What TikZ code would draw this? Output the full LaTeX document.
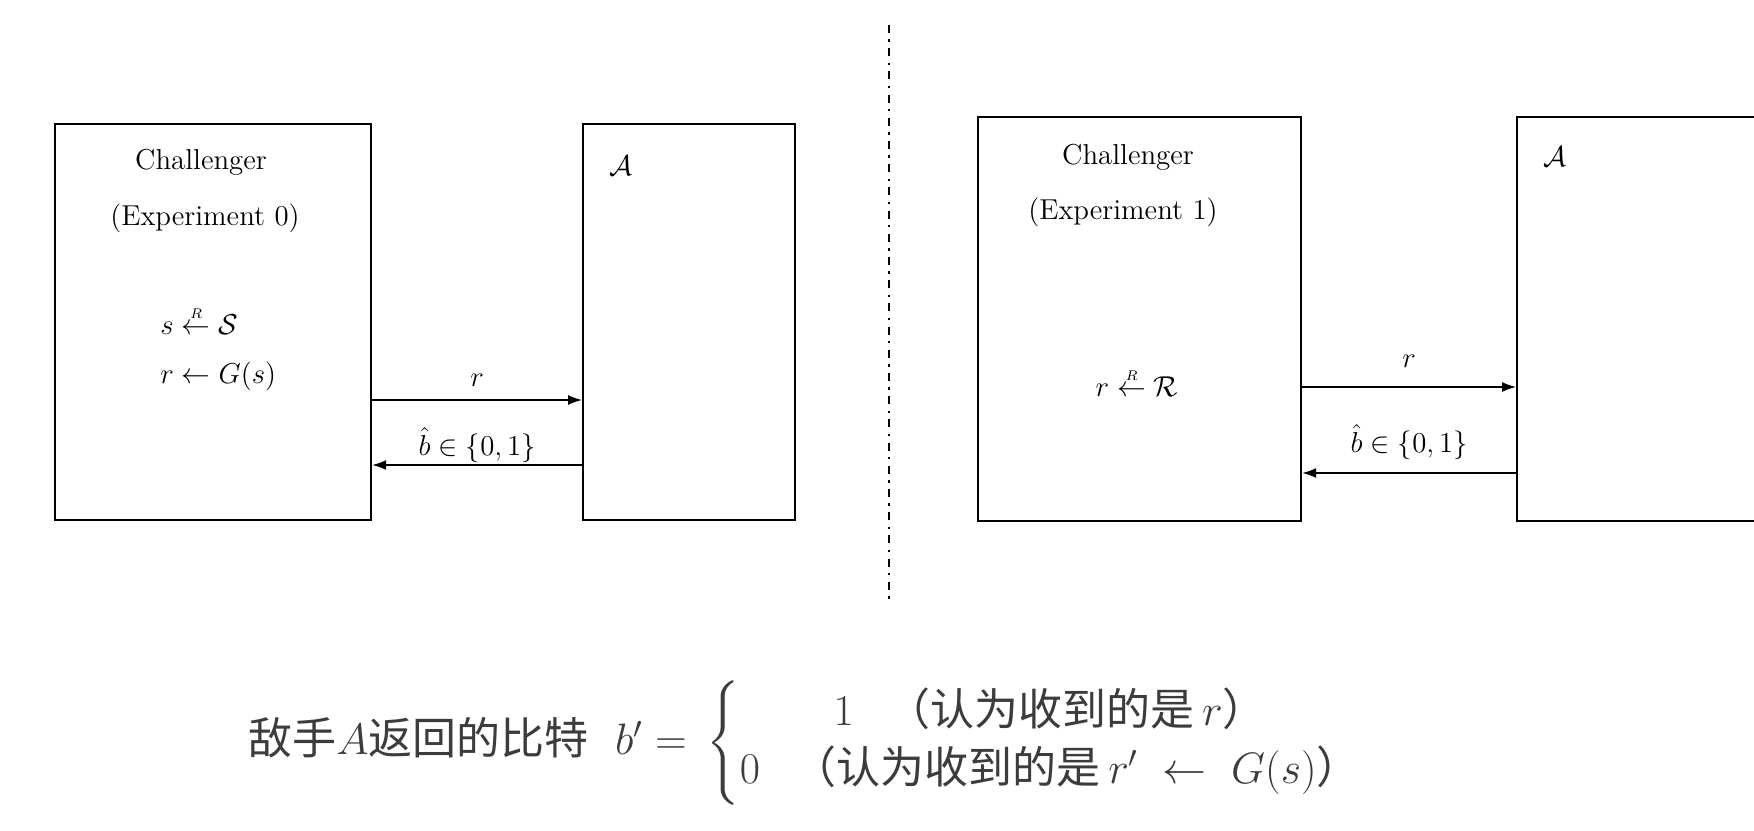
\RequirePackage{fix-cm}
\documentclass[tikz,border=0pt]{standalone}
\usepackage{fontspec}
\usepackage{amsmath}
\usetikzlibrary{arrows.meta}
\newfontfamily\cjk{Noto Sans CJK SC}
\definecolor{textgray}{HTML}{3C3C3C}
\tikzset{
  box/.style={draw, line width=1.1pt, anchor=north west, inner sep=0pt},
  arr/.style={-{Latex[length=7pt,width=5pt]}, line width=0.7pt},
  lbl/.style={font=\fontsize{14.4}{17}\selectfont, inner sep=0pt},
  sepline/.style={line width=0.9pt, dash pattern=on 4pt off 3.2pt on 1.2pt off 3.2pt},
  formula/.style={anchor=west, text=textgray, font=\fontsize{22}{26}\selectfont, inner sep=0pt}
}
\begin{document}
\begin{tikzpicture}[x=0.5pt,y=-0.5pt]
\useasboundingbox (0,0) rectangle (1754,830);
\clip (0,0) rectangle (1754,830);

% left experiment
\node[box, minimum width=158pt, minimum height=198pt] (ch0) at (54,123) {};
\node[box, minimum width=106pt, minimum height=198pt] (adv0) at (582,123) {};
\node[lbl] (t0a) at (201,162) {Challenger};
\node[lbl] (t0b) at (205,218) {(Experiment 0)};
\node[lbl, anchor=west] (t0c) at (160,320) {$s \stackrel{\scriptscriptstyle R}{\leftarrow} \mathcal{S}$};
\node[lbl, anchor=west] (t0d) at (160,376) {$r \leftarrow G(s)$};
\node[lbl] (a0) at (621,166) {$\mathcal{A}$};
\coordinate (y0r) at (0,400);
\coordinate (y0b) at (0,465);
\draw[arr] (ch0.east |- y0r) -- node[lbl, midway, yshift=10pt] (l0r) {$r$} (adv0.west |- y0r);
\draw[arr] (adv0.west |- y0b) -- node[lbl, midway, yshift=10pt] (l0b) {$\hat{b}\in\{0,1\}$} (ch0.east |- y0b);

% separator
\coordinate (sepTop) at (889,25);
\coordinate (sepBot) at (889,601);
\draw[sepline] (sepTop) -- (sepBot);

% right experiment
\node[box, minimum width=161.5pt, minimum height=202pt] (ch1) at (977,116) {};
\node[box, minimum width=130pt, minimum height=202pt] (adv1) at (1516,116) {};
\node[lbl] (t1a) at (1128,157) {Challenger};
\node[lbl] (t1b) at (1123,212) {(Experiment 1)};
\node[lbl] (t1c) at (1137,382) {$r \stackrel{\scriptscriptstyle R}{\leftarrow} \mathcal{R}$};
\node[lbl] (a1) at (1555,157) {$\mathcal{A}$};
\coordinate (y1r) at (0,387);
\coordinate (y1b) at (0,473);
\draw[arr] (ch1.east |- y1r) -- node[lbl, midway, yshift=13pt] (l1r) {$r$} (adv1.west |- y1r);
\draw[arr] (adv1.west |- y1b) -- node[lbl, midway, yshift=15.5pt] (l1b) {$\hat{b}\in\{0,1\}$} (ch1.east |- y1b);

% bottom formula
\node[formula] (fml) at (248,743) {\cjk 敌手$A$返回的比特\hspace{0.6em}$b'\mathrel{=}\,\left\{\renewcommand\arraystretch{1.12}\begin{array}{@{}c@{}}1\hspace{0.75em}\mbox{\cjk （认为收到的是}\,r\mbox{\cjk ）}\\ 0\hspace{0.75em}\mbox{\cjk （认为收到的是}\,r'\mathrel{\;\leftarrow\;} G(s)\mbox{\cjk ）}\end{array}\right.$};
\end{tikzpicture}
\end{document}
